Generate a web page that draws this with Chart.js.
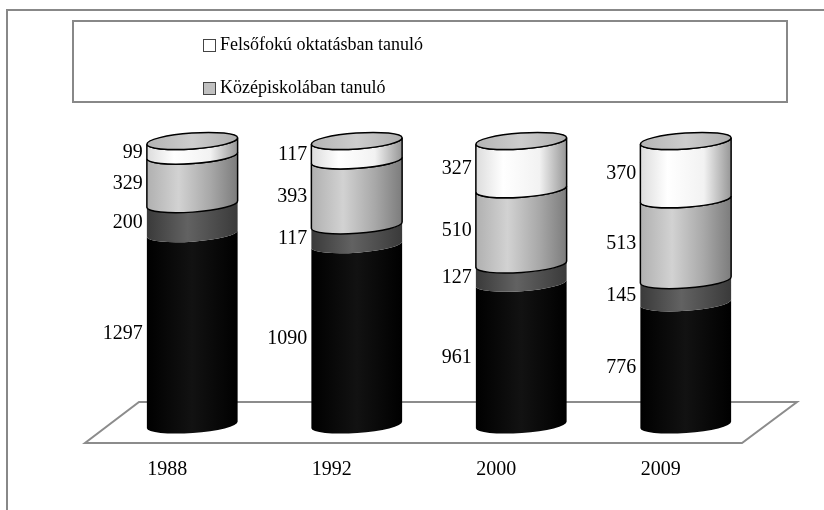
<!DOCTYPE html>
<html>
<head>
<meta charset="utf-8">
<script src="https://cdn.jsdelivr.net/npm/chart.js@4.4.1/dist/chart.umd.min.js"></script>
<style>
  body { margin: 0; background: #fff; }
</style>
</head>
<body>
<canvas id="myChart" width="824" height="510"></canvas>
<script>
// years on the x axis
var years = ['1988', '1992', '2000', '2009'];

// stacked series, bottom to top
var series1 = [1297, 1090, 961, 776];   // black
var series2 = [200, 117, 127, 145];     // dark gray
var kozepiskola = [329, 393, 510, 513]; // light gray
var felsofoku = [99, 117, 327, 370];    // white

var seriesNames = ['1', '2', 'Középiskolában tanuló', 'Felsőfokú oktatásban tanuló'];
var seriesValues = [series1, series2, kozepiskola, felsofoku];

// only these two appear in the legend box (top to bottom)
var legendItems = [3, 2];

// gradient stops for each cylinder part (left -> right)
var shades = [
  [[0, '#000'], [0.5, '#121212'], [1, '#000']],
  [[0, '#3a3a3a'], [0.45, '#626262'], [1, '#3a3a3a']],
  [[0, '#b0b0b0'], [0.35, '#d2d2d2'], [0.7, '#a8a8a8'], [1, '#7c7c7c']],
  [[0, '#dcdcdc'], [0.3, '#ffffff'], [0.7, '#f2f2f2'], [1, '#969696']]
];
var swatch = ['#000', '#555', '#c0c0c0', '#fff'];
var outlined = [false, false, true, true];

var FONT = '20px "Liberation Serif", serif';

// 100% stacked: each column is scaled to its own total
var totals = years.map(function (y, i) {
  var s = 0;
  seriesValues.forEach(function (arr) { s += arr[i]; });
  return s;
});

var datasets = seriesValues.map(function (arr, k) {
  return {
    label: seriesNames[k],
    data: arr.map(function (v, i) { return v / totals[i] * 100; }),
    raw: arr,
    backgroundColor: 'rgba(0,0,0,0)',
    borderWidth: 0
  };
});

var RY = 8, ROT = -0.07;

function grad(ctx, x, rx, stops) {
  var g = ctx.createLinearGradient(x - rx, 0, x + rx, 0);
  stops.forEach(function (s) { g.addColorStop(s[0], s[1]); });
  return g;
}

var cylinders = {
  id: 'cylinders',
  beforeDatasetsDraw: function (chart) {
    var ctx = chart.ctx, a = chart.chartArea;
    ctx.save();
    // outer frame (only top and left edges are inside the picture)
    ctx.strokeStyle = '#888';
    ctx.lineWidth = 2;
    ctx.beginPath();
    ctx.moveTo(7, chart.height);
    ctx.lineTo(7, 10);
    ctx.lineTo(chart.width, 10);
    ctx.stroke();
    // legend box
    ctx.strokeRect(73, 21, 714, 81);
    ctx.font = '18px "Liberation Serif", serif';
    ctx.textAlign = 'left';
    ctx.textBaseline = 'middle';
    legendItems.forEach(function (d, k) {
      var cy = 45 + k * 43;
      ctx.fillStyle = swatch[d];
      ctx.fillRect(203, cy - 6, 12, 12);
      ctx.strokeStyle = '#444';
      ctx.lineWidth = 1;
      ctx.strokeRect(203.5, cy - 5.5, 12, 12);
      ctx.fillStyle = '#000';
      ctx.fillText(seriesNames[d], 220, cy);
    });
    // floor
    ctx.beginPath();
    ctx.moveTo(a.left + 29, a.bottom - 23);
    ctx.lineTo(a.right + 29, a.bottom - 23);
    ctx.lineTo(a.right - 26, a.bottom + 18);
    ctx.lineTo(a.left - 25, a.bottom + 18);
    ctx.closePath();
    ctx.fillStyle = '#fff';
    ctx.fill();
    ctx.strokeStyle = '#8c8c8c';
    ctx.lineWidth = 2;
    ctx.stroke();
    ctx.restore();
  },
  afterDatasetsDraw: function (chart) {
    var ctx = chart.ctx;
    ctx.save();
    for (var j = 0; j < years.length; j++) {
      var last;
      for (var d = 0; d < chart.data.datasets.length; d++) {
        var bar = chart.getDatasetMeta(d).data[j];
        var x = bar.x, rx = bar.width / 2, top = bar.y, bot = bar.base;
        ctx.beginPath();
        ctx.ellipse(x, bot, rx, RY, ROT, Math.PI, 0, true);
        ctx.ellipse(x, top, rx, RY, ROT, 0, Math.PI, false);
        ctx.closePath();
        ctx.fillStyle = grad(ctx, x, rx, shades[d]);
        ctx.fill();
        if (outlined[d]) {
          ctx.strokeStyle = '#000';
          ctx.lineWidth = 1.5;
          ctx.stroke();
        }
        last = bar;
      }
      // top cap
      ctx.beginPath();
      ctx.ellipse(last.x, last.y, last.width / 2, RY, ROT, 0, Math.PI * 2);
      ctx.fillStyle = grad(ctx, last.x, last.width / 2, [[0, '#b4b4b4'], [0.5, '#cdcdcd'], [1, '#aeaeae']]);
      ctx.fill();
      ctx.strokeStyle = '#000';
      ctx.lineWidth = 1.5;
      ctx.stroke();
    }
    // value labels, left of each part
    ctx.font = FONT;
    ctx.fillStyle = '#000';
    ctx.textAlign = 'right';
    ctx.textBaseline = 'middle';
    chart.data.datasets.forEach(function (ds, d) {
      chart.getDatasetMeta(d).data.forEach(function (bar, j) {
        var y = (bar.y + bar.base) / 2 + 4;
        ctx.fillText(String(ds.raw[j]), bar.x - bar.width / 2 - 4, y);
      });
    });
    ctx.restore();
  }
};

var ctx = document.getElementById('myChart');

var myChart = new Chart(ctx, {
  type: 'bar',
  data: { labels: years, datasets: datasets },
  options: {
    responsive: false,
    animation: false,
    barPercentage: 0.553,
    categoryPercentage: 1,
    layout: { padding: { left: 110, right: 56, top: 141, bottom: 28 } },
    plugins: { legend: { display: false }, tooltip: { enabled: false } },
    scales: {
      x: {
        stacked: true,
        grid: { display: false, drawTicks: false },
        border: { display: false },
        ticks: {
          color: '#000',
          font: { family: '"Liberation Serif", serif', size: 20 },
          padding: 33,
          labelOffset: -25
        },
        afterFit: function (scale) { scale.height = 57; }
      },
      y: { stacked: true, display: false, min: 0, max: 100 }
    }
  },
  plugins: [cylinders]
});
</script>
</body>
</html>
